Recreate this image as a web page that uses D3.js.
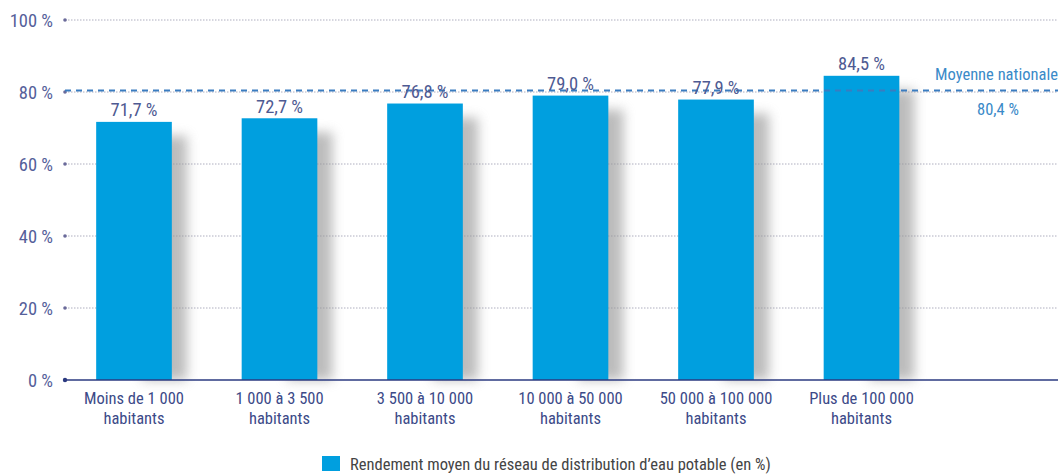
<!DOCTYPE html>
<html><head><meta charset="utf-8">
<script src="https://cdn.jsdelivr.net/npm/d3@7/dist/d3.min.js"></script>
<style>
body{margin:0;background:#fff;}
text{font-family:"Liberation Sans Narrow","Roboto Condensed","Liberation Sans",Arial,sans-serif;}
</style></head><body>
<svg id="c" width="1058" height="474"></svg>
<script>
const categories = [["Moins de 1 000","habitants"],["1 000 à 3 500","habitants"],["3 500 à 10 000","habitants"],["10 000 à 50 000","habitants"],["50 000 à 100 000","habitants"],["Plus de 100 000","habitants"]];
const values = [71.7, 72.7, 76.8, 79.0, 77.9, 84.5];
const valueLabels = ["71,7 %","72,7 %","76,8 %","79,0 %","77,9 %","84,5 %"];
const yTicks = [0,20,40,60,80,100];
const nationalAvg = 80.4;
const nationalLabel = ["Moyenne nationale","80,4 %"];
const legendLabel = "Rendement moyen du réseau de distribution d’eau potable (en %)";

const svg = d3.select("#c");
const y = d3.scaleLinear().domain([0,100]).range([380,20]);
const x = d3.scaleBand().domain(d3.range(categories.length)).range([61.25,934.25]).paddingInner(0.48).paddingOuter(0.24);

const defs = svg.append("defs");
const f = defs.append("filter").attr("id","sh").attr("x","-50%").attr("y","-20%").attr("width","200%").attr("height","140%");
f.append("feGaussianBlur").attr("stdDeviation",6);

// gridlines
svg.append("g").selectAll("line").data(yTicks.filter(d=>d>0)).join("line")
  .attr("x1",65).attr("x2",1058).attr("y1",d=>y(d)).attr("y2",d=>y(d))
  .attr("stroke","#9a9aae").attr("stroke-width",0.8).attr("stroke-dasharray","1.5,1.5");

// shadows
svg.append("g").selectAll("rect").data(values).join("rect")
  .attr("x",(d,i)=>x(i)+x.bandwidth()*0.6).attr("width",x.bandwidth()*0.6)
  .attr("y",d=>y(d)+14).attr("height",d=>y(0)-y(d)-14)
  .attr("fill","#999").attr("opacity",0.65).attr("filter","url(#sh)");

// bars
svg.append("g").selectAll("rect").data(values).join("rect")
  .attr("x",(d,i)=>x(i)).attr("width",x.bandwidth())
  .attr("y",d=>y(d)).attr("height",d=>y(0)-y(d))
  .attr("fill","#009fdf");

// axis line
svg.append("line").attr("x1",65).attr("x2",1058).attr("y1",y(0)).attr("y2",y(0)).attr("stroke","#2b3a80").attr("stroke-width",1.6);

// tick dots & labels
const tg = svg.append("g");
tg.selectAll("circle").data(yTicks).join("circle").attr("cx",65).attr("cy",d=>y(d)).attr("r",d=>d===0?2.2:1.8)
  .attr("fill",d=>d===0?"#2b3a80":"#6a6a9a");
tg.selectAll("text").data(yTicks).join("text").attr("x",53).attr("y",d=>y(d)+6.5).attr("text-anchor","end")
  .attr("font-size",18.5).attr("fill","#55609a").text(d=>d+" %");

// national average line
svg.append("line").attr("x1",65).attr("x2",1058).attr("y1",y(nationalAvg)).attr("y2",y(nationalAvg))
  .attr("stroke","#3a7cc0").attr("stroke-width",2).attr("stroke-dasharray","6,5");
svg.append("text").attr("x",935).attr("y",80).attr("font-size",16.5).attr("fill","#3a8ac8").text(nationalLabel[0]);
svg.append("text").attr("x",998).attr("y",115).attr("text-anchor","middle").attr("font-size",16.5).attr("fill","#3a8ac8").text(nationalLabel[1]);

// value labels
svg.append("g").selectAll("text").data(values).join("text")
  .attr("x",(d,i)=>x(i)+x.bandwidth()/2).attr("y",d=>y(d)-5.5).attr("text-anchor","middle")
  .attr("font-size",18.5).attr("fill","#4e5a92").text((d,i)=>valueLabels[i]);

// category labels
const cg = svg.append("g").selectAll("text").data(categories).join("text")
  .attr("x",(d,i)=>x(i)+x.bandwidth()/2).attr("y",404).attr("text-anchor","middle")
  .attr("font-size",16.5).attr("fill","#3c4a88");
cg.selectAll("tspan").data(d=>d).join("tspan").attr("x",function(){return this.parentNode.getAttribute("x");})
  .attr("dy",(d,j)=>j===0?0:20).text(d=>d);

// legend
svg.append("rect").attr("x",322).attr("y",456).attr("width",18).attr("height",15).attr("fill","#009fdf");
svg.append("text").attr("x",350).attr("y",470).attr("font-size",16.5).attr("fill","#444").text(legendLabel);
</script></body></html>
